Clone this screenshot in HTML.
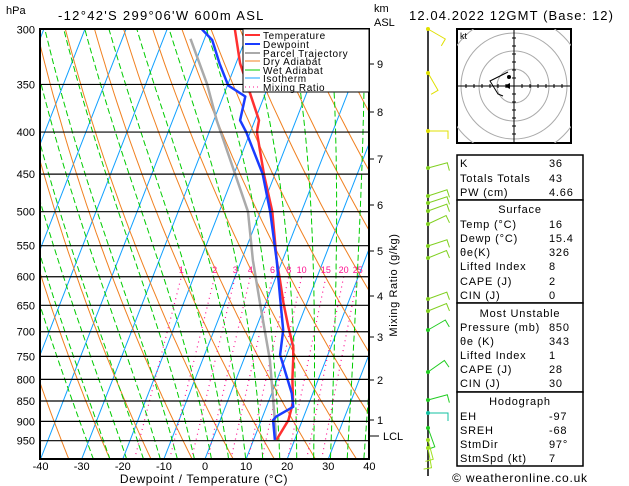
<!DOCTYPE html>
<html><head><meta charset="utf-8"><style>
body{margin:0;background:#fff;}
svg{display:block;font-family:"Liberation Sans",sans-serif;}
</style></head><body>
<svg id="c" width="629" height="486" viewBox="0 0 629 486" xmlns="http://www.w3.org/2000/svg">
<defs><clipPath id="pc"><rect x="40" y="29" width="329" height="430"/></clipPath>
<clipPath id="hc"><rect x="457" y="29" width="114" height="114"/></clipPath></defs>
<text x="6" y="14" font-size="11">hPa</text>
<text x="58" y="20" font-size="13" letter-spacing="1.3">-12°42'S  299°06'W  600m  ASL</text>
<text x="374" y="12" font-size="11">km</text>
<text x="374" y="26" font-size="11">ASL</text>
<text x="409" y="20" font-size="13" letter-spacing="1.1">12.04.2022  12GMT  (Base: 12)</text>
<g id="bg" clip-path="url(#pc)"></g>
<g id="prof" clip-path="url(#pc)"></g>
<g id="axes"></g>
<g id="legend" font-size="10" letter-spacing="0.6">
<rect x="243" y="29" width="126" height="63" fill="#fff" stroke="#000" stroke-width="1"/>
<line x1="245" y1="35" x2="260" y2="35" stroke="#ff3030" stroke-width="2"/>
<text x="263" y="39">Temperature</text>
<line x1="245" y1="44" x2="260" y2="44" stroke="#1a3cff" stroke-width="2"/>
<text x="263" y="48">Dewpoint</text>
<line x1="245" y1="53" x2="260" y2="53" stroke="#aaa" stroke-width="2"/>
<text x="263" y="57">Parcel Trajectory</text>
<line x1="245" y1="61" x2="260" y2="61" stroke="#f08020" stroke-width="1"/>
<text x="263" y="65">Dry Adiabat</text>
<line x1="245" y1="70" x2="260" y2="70" stroke="#00cc00" stroke-width="1"/>
<text x="263" y="74">Wet Adiabat</text>
<line x1="245" y1="78" x2="260" y2="78" stroke="#10a0ff" stroke-width="1"/>
<text x="263" y="82">Isotherm</text>
<line x1="245" y1="87" x2="260" y2="87" stroke="#ff1090" stroke-width="1" stroke-dasharray="1,3"/>
<text x="263" y="91">Mixing Ratio</text>
</g>
<g id="wind"></g>
<g id="hodo"></g>
<g id="table" font-size="11" letter-spacing="0.8"></g>
<text x="520" y="482" font-size="12" letter-spacing="0.8" text-anchor="middle">© weatheronline.co.uk</text>
</svg>
<script>
// data
const tempP=[948,897,864,850,800,751,730,690,646,606,573,500,450,400,387,330,300];
const tempT=[15.6,16.6,16.2,15.9,13.7,11.8,10.8,7.7,4.3,1.3,-1.4,-7.1,-12.7,-18.4,-19,-29,-33.5];
const dewP=[948,897,888,864,832,747,697,640,573,500,450,400,387,362,351,330,309,300];
const dewT=[15.2,12.9,13.3,16.5,14.9,8.4,6.8,3.2,-1.4,-7.6,-13,-21,-23.6,-24.6,-29.8,-34,-38,-41.5];
const parP=[948,897,758,646,573,500,387,350,308];
const parT=[15.5,13.3,6.4,-1.4,-7.2,-13,-29.3,-35,-43.4];
const pLevels=[300,350,400,450,500,550,600,650,700,750,800,850,900,950];
const tTicks=[-40,-30,-20,-10,0,10,20,30,40];
const kmLabels=["1","2","3","4","5","6","7","8","9"];
const kmY=[420,380,337,296,251,205,159,112,64];
const mixW=[1,2,3,4,6,8,10,15,20,25];
const windY=[29,73,131,168,196,203,211,224,246,258,299,311,330,372,400,413,428,440,448];
const windDir=[120,150,90,75,72,72,70,65,72,68,70,68,60,55,75,90,160,165,170];
const windCol=["#e0e000","#e0e000","#e0e000","#80d020","#80d020","#80d020","#80d020","#80d020","#80d020","#80d020","#80d020","#80d020","#20cc20","#20cc20","#20cc20","#10c0a0","#20cc20","#a0e020","#a0e020"];
const NS="http://www.w3.org/2000/svg";
function Y(p){return 459+356.8*Math.log(p/1000);}
function X(T,p){return 205+T*4.11+(459-Y(p))*0.39;}
function mk(tag,at,par){const e=document.createElementNS(NS,tag);for(const k in at)e.setAttribute(k,at[k]);par.appendChild(e);return e;}
function path(pts){return pts.map((q,i)=>(i?'L':'M')+q[0].toFixed(1)+','+q[1].toFixed(1)).join('');}
const bg=document.getElementById('bg');
for(let T=-110;T<=40;T+=10){
 const e=mk('line',{x1:X(T,1050),y1:Y(1050),x2:X(T,290),y2:Y(290),stroke:'#10a0ff','stroke-width':1},bg);
 
 
}
for(let th=240;th<=480;th+=10){
 const pts=[];for(let p=1050;p>=290;p-=10)pts.push([X(th*Math.pow(p/1000,0.286)-273.15,p),Y(p)]);
 const e=mk('path',{d:path(pts),fill:'none',stroke:'#f08020','stroke-width':1},bg);
 
 
}
function es(t){return 6.112*Math.exp(17.67*t/(t+243.5));}
for(let T0=-24;T0<=40;T0+=4){
 let T=T0+273.15,pts=[];
 for(let p=1050;p>=290;p-=5){
  pts.push([X(T-273.15,p),Y(p)]);
  const e=es(T-273.15),rs=0.622*e/(p-e);
  const dT=(287*T+2.5e6*rs)/(p*(1005+2.5e6*2.5e6*rs*0.622/(287*T*T)));
  T-=dT*5;
 }
 const e=mk('path',{d:path(pts),fill:'none',stroke:'#00cc00','stroke-width':1,'stroke-dasharray':'6,3'},bg);
 
 
}
function tdw(w,p){const e=p*w/(622+w),l=Math.log(e/6.112);return 243.5*l/(17.67-l);}
mixW.forEach(w=>{
 const e=mk('line',{x1:X(tdw(w,1000),1000),y1:Y(1000),x2:X(tdw(w,600),600),y2:Y(600),stroke:'#ff1090','stroke-width':1.2,'stroke-dasharray':'1,4'},bg);
 
 
 const t=mk('text',{x:X(tdw(w,600),600),y:273,'font-size':9,fill:'#ff1090','text-anchor':'middle'},bg);
 t.textContent=w;
 
 
});
const ax=document.getElementById('axes');
pLevels.forEach(p=>{
 const e=mk('line',{x1:40,y1:Y(p),x2:369,y2:Y(p),stroke:'#000','stroke-width':1.2},ax);
 
 
 const t=mk('text',{x:35,y:Y(p)+4,'font-size':11,'text-anchor':'end'},ax);
 t.textContent=p;
 
 
});
const fr=mk('rect',{x:40,y:29,width:329,height:430,fill:'none',stroke:'#000','stroke-width':2},ax);


tTicks.forEach(T=>{
 const t=mk('text',{x:X(T,1000),y:470,'font-size':11,'text-anchor':'middle'},ax);
 t.textContent=T;
 
 
});
const xt=mk('text',{x:204,y:483,'font-size':12,'letter-spacing':'0.6','text-anchor':'middle'},ax);
xt.textContent='Dewpoint / Temperature (°C)';


kmLabels.forEach((k,i)=>{
 const l=mk('line',{x1:369,y1:kmY[i],x2:374,y2:kmY[i],stroke:'#000'},ax);
 
 
 const t=mk('text',{x:377,y:kmY[i]+4,'font-size':11},ax);
 t.textContent=k;
 
 
});
const ll=mk('line',{x1:369,y1:436,x2:379,y2:436,stroke:'#000'},ax);


const lt=mk('text',{x:383,y:440,'font-size':11},ax);
lt.textContent='LCL';


const mr=mk('text',{x:397,y:285,'font-size':11,'letter-spacing':'0.6','text-anchor':'middle',transform:'rotate(-90 397 285)'},ax);
mr.textContent='Mixing Ratio (g/kg)';


const pr=document.getElementById('prof');
function prof(P,T,col,w,name){
 const e=mk('path',{d:path(P.map((p,i)=>[X(T[i],p),Y(p)])),fill:'none',stroke:col,'stroke-width':w,'stroke-linejoin':'round'},pr);
 
 
}
prof(parP,parT,'#aaa',2.5,'parcel-trajectory');
prof(tempP,tempT,'#ff3030',2.5,'temperature-line');
prof(dewP,dewT,'#1a3cff',2.5,'dewpoint-line');
const wg=document.getElementById('wind');
const ws=mk('line',{x1:428,y1:29,x2:428,y2:476,stroke:'#000','stroke-width':1.5},wg);


windY.forEach((y,i)=>{
 const a=windDir[i]*Math.PI/180,L=20;
 const x2=428+Math.sin(a)*L,y2=y-Math.cos(a)*L;
 const fx=x2+Math.cos(a)*8,fy=y2+Math.sin(a)*8;
 const e=mk('path',{d:`M428,${y}L${x2.toFixed(1)},${y2.toFixed(1)}L${fx.toFixed(1)},${fy.toFixed(1)}`,fill:'none',stroke:windCol[i],'stroke-width':1},wg);
 
 
 const d=mk('circle',{cx:428,cy:y,r:2,fill:windCol[i]},wg);
 
 
});
const hg=document.getElementById('hodo');
mk('rect',{x:457,y:29,width:114,height:114,fill:'#fff',stroke:'#000','stroke-width':2},hg);
const hc=mk('g',{'clip-path':'url(#hc)'},hg);
[17,35,53,70].forEach(r=>mk('circle',{cx:514,cy:86,r:r,fill:'none',stroke:'#aaa'},hc));
mk('line',{x1:457,y1:86,x2:571,y2:86,stroke:'#000'},hg);
mk('line',{x1:514,y1:29,x2:514,y2:143,stroke:'#000'},hg);
for(let i=-6;i<=6;i++){if(!i)continue;mk('line',{x1:514+i*8,y1:84,x2:514+i*8,y2:88,stroke:'#000'},hg);mk('line',{x1:512,y1:86+i*8,x2:516,y2:86+i*8,stroke:'#000'},hg);}
mk('path',{d:'M508,72L490,81L498,94L503,96',fill:'none',stroke:'#000'},hg);
mk('circle',{cx:509,cy:77,r:2},hg);
mk('path',{d:'M504,86L510,83L510,89Z',fill:'#000'},hg);
const kt=mk('text',{x:460,y:39,'font-size':9},hg);kt.textContent='kt';
const tb=document.getElementById('table');
[[155,200],[200,303],[303,392],[392,466]].forEach(b=>mk('rect',{x:457,y:b[0],width:126,height:b[1]-b[0],fill:'#fff',stroke:'#000','stroke-width':1.5},tb));
const rows=[["K","36",167],["Totals Totals","43",182],["PW (cm)","4.66",196],["Temp (°C)","16",228],["Dewp (°C)","15.4",242],["θe(K)","326",256],["Lifted Index","8",270],["CAPE (J)","2",285],["CIN (J)","0",299],["Pressure (mb)","850",331],["θe (K)","343",345],["Lifted Index","1",359],["CAPE (J)","28",373],["CIN (J)","30",387],["EH","-97",420],["SREH","-68",434],["StmDir","97°",448],["StmSpd (kt)","7",462]];
rows.forEach(r=>{const a=mk('text',{x:460,y:r[2]},tb);a.textContent=r[0];const b=mk('text',{x:549,y:r[2]},tb);b.textContent=r[1];});
[["Surface",213],["Most Unstable",317],["Hodograph",405]].forEach(h=>{const t=mk('text',{x:520,y:h[1],'text-anchor':'middle'},tb);t.textContent=h[0];});
</script>
</body></html>
